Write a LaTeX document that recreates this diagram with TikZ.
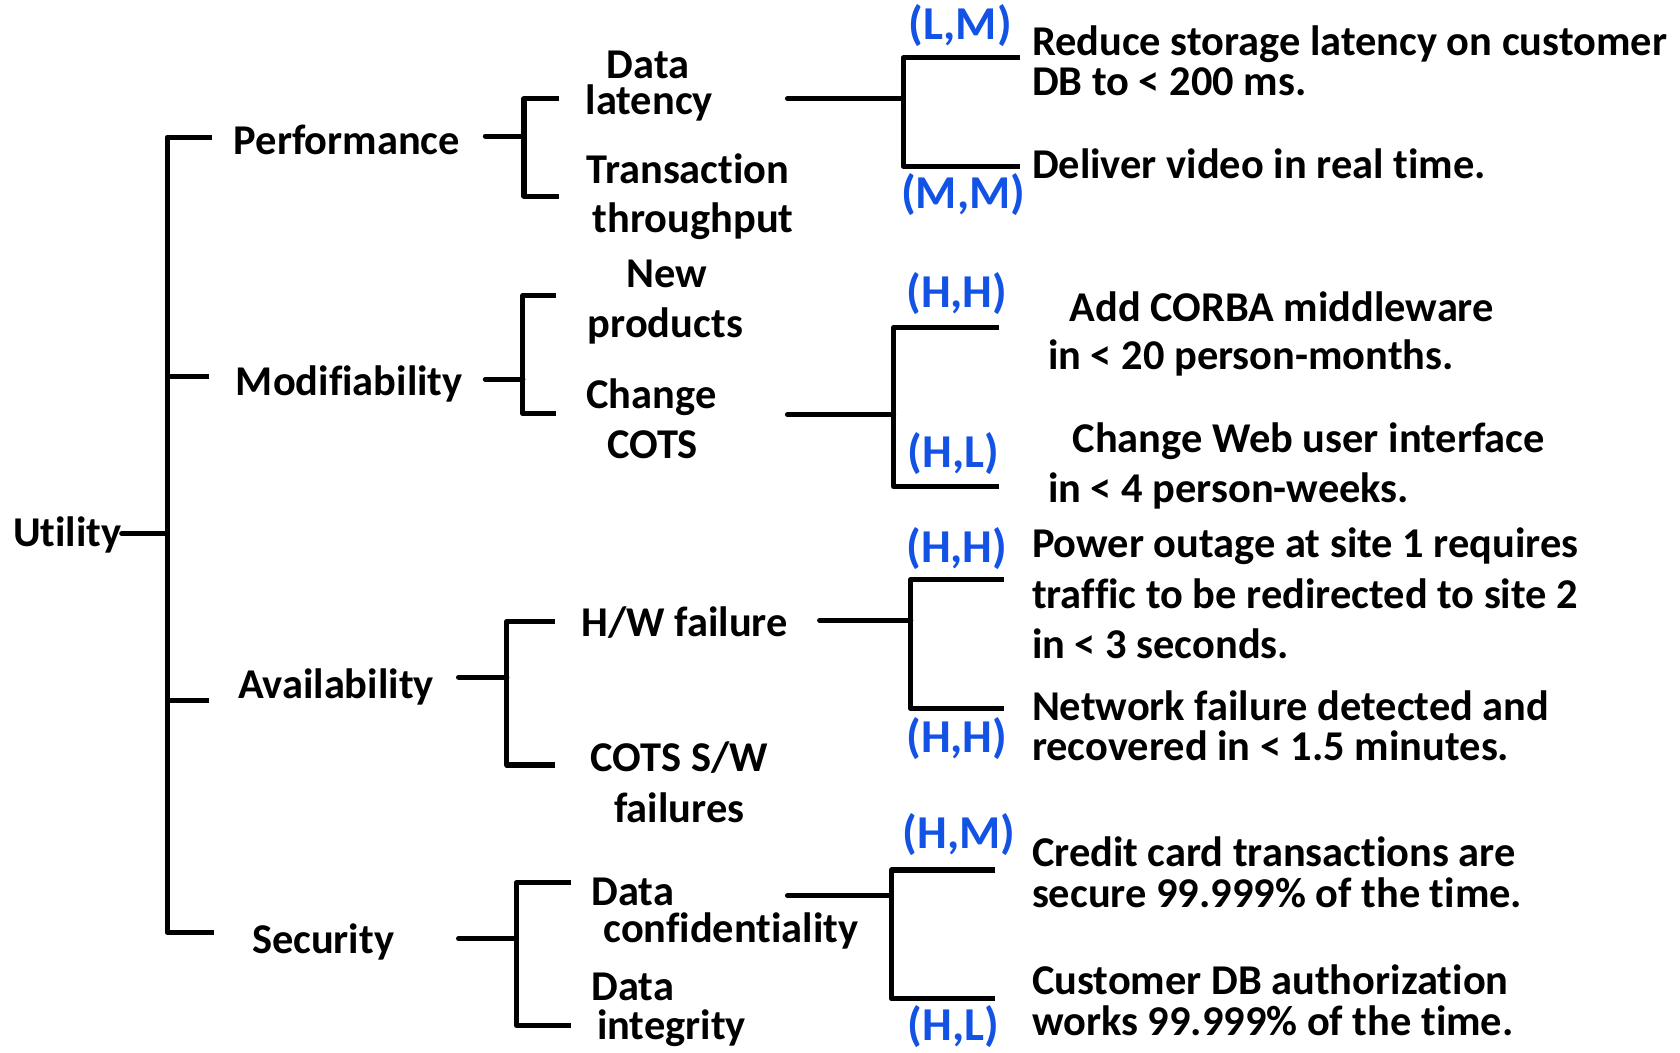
\documentclass[tikz,border=0pt]{standalone}
\usepackage{fontspec}
\setmainfont{Carlito}[Ligatures=NoCommon]
\definecolor{rate}{RGB}{18,82,228}
\tikzset{
  txt/.style={inner sep=0pt, font=\bfseries\fontsize{39.6}{47}\selectfont},
  rating/.style={inner sep=0pt, text=rate, font=\bfseries\fontsize{44}{52}\selectfont},
  wire/.style={line width=4.8pt, line join=round},
}
% a bracket: stem from the parent, a vertical bar, and two arms
% #1 name, #2 stem x, #3 bar x, #4 stem y, #5 top arm y, #6 bottom arm y, #7 arm end x
\newcommand\bracketfork[7]{%
  \coordinate (#1s) at (#2,#4);
  \coordinate (#1j) at (#3,#4);
  \coordinate (#1t) at (#7,#5);
  \coordinate (#1b) at (#7,#6);
  \draw[wire, line cap=round] (#1s) -- (#1j);
  \draw[wire] (#1t) -| (#1j) |- (#1b);
}
\begin{document}
\begin{tikzpicture}[x=1pt,y=-1pt]
\useasboundingbox (0,0) rectangle (1568,982);

% root and quality attributes
\node[txt, anchor=base west] (util)  at (12,510)  {Utility};
\node[txt, anchor=base west] (perf)  at (218,144) {Performance};
\node[txt, anchor=base west] (modi)  at (220,369) {Modifiability};
\node[txt, anchor=base west] (avail) at (222,652) {Availability};
\node[txt, anchor=base west] (secu)  at (235,890) {Security};

% refinements
\node[txt, anchor=base, text depth=0pt] (dl1) at (605,73)  {Data};
\node[txt, anchor=base] (dl2) at (606,107) {latency};
\node[txt, anchor=base] (tt1) at (642,171) {Transaction};
\node[txt, anchor=base] (tt2) at (647,217) {throughput};
\node[txt, anchor=base] (np1) at (622,268) {New};
\node[txt, anchor=base] (np2) at (621,315) {products};
\node[txt, anchor=base] (cc1) at (608,381) {Change};
\node[txt, anchor=base] (cc2) at (609,428) {COTS};
\node[txt, anchor=base] (hw)  at (639,594) {H/W failure};
\node[txt, anchor=base] (cs1) at (634,720) {COTS S/W};
\node[txt, anchor=base] (cs2) at (634,768) {failures};
\node[txt, anchor=base west, text depth=0pt] (dc1) at (552,845) {Data};
\node[txt, anchor=base west] (dc2) at (563,880) {confidentiality};
\node[txt, anchor=base west, text depth=0pt] (di1) at (552,934) {Data};
\node[txt, anchor=base west] (di2) at (557,970) {integrity};

% scenarios
\node[txt, anchor=base west] (r1a) at (963,52)  {Reduce storage latency on customer};
\node[txt, anchor=base west] (r1b) at (963,89)  {DB to < 200 ms.};
\node[txt, anchor=base west] (r2)  at (963,167) {Deliver video in real time.};
\node[txt, anchor=base west] (r3a) at (998,300) {Add CORBA middleware};
\node[txt, anchor=base west] (r3b) at (978,345) {in < 20 person-months.};
\node[txt, anchor=base west] (r4a) at (1001,422) {Change Web user interface};
\node[txt, anchor=base west] (r4b) at (978,469) {in < 4 person-weeks.};
\node[txt, anchor=base west] (r5a) at (963,520) {Power outage at site 1 requires};
\node[txt, anchor=base west] (r5b) at (963,568) {traffic to be redirected to site 2};
\node[txt, anchor=base west] (r5c) at (963,615) {in < 3 seconds.};
\node[txt, anchor=base west] (r6a) at (963,672) {Network failure detected and};
\node[txt, anchor=base west] (r6b) at (963,710) {recovered in < 1.5 minutes.};
\node[txt, anchor=base west] (r7a) at (963,809) {Credit card transactions are};
\node[txt, anchor=base west] (r7b) at (963,847) {secure 99.999\% of the time.};
\node[txt, anchor=base west] (r8a) at (963,928) {Customer DB authorization};
\node[txt, anchor=base west] (r8b) at (963,966) {works 99.999\% of the time.};

% (importance, difficulty) ratings
\node[rating] (k1) at (896,24)  {(L,M)};
\node[rating] (k2) at (899,182) {(M,M)};
\node[rating] (k3) at (893,274) {(H,H)};
\node[rating] (k4) at (890,423) {(H,L)};
\node[rating] (k5) at (893,512) {(H,H)};
\node[rating] (k6) at (893,689) {(H,H)};
\node[rating] (k7) at (895,779) {(H,M)};
\node[rating] (k8) at (890,958) {(H,L)};

% trunk
\coordinate (T)    at (156,498);
\coordinate (Ttop) at (156,128);
\coordinate (Tbot) at (156,870);
\coordinate (Pend) at (198,128);
\coordinate (Mjn)  at (156,351);
\coordinate (Mend) at (195,351);
\coordinate (Ajn)  at (156,654);
\coordinate (Aend) at (195,654);
\coordinate (Send) at (200,870);
\draw[wire, line cap=round] (util.east |- T) -- (T);
\draw[wire] (Pend) -- (Ttop) -- (Tbot) -- (Send);
\draw[wire] (Mjn) -- (Mend);
\draw[wire] (Ajn) -- (Aend);

% attribute -> refinements
\bracketfork{p}{453}{489}{127}{92}{183}{522}
\bracketfork{m}{453}{488}{354}{276}{386}{519}
\bracketfork{a}{428}{473}{632}{580}{714}{518}
\bracketfork{s}{428}{482}{876}{824}{957}{533}

% refinement -> scenarios
\bracketfork{pp}{735}{843}{92}{54}{155}{952}
\bracketfork{mm}{735}{834}{387}{306}{454}{932}
\bracketfork{aa}{765}{850}{579}{541}{661}{937}
\bracketfork{ss}{735}{832}{836}{812}{932}{929}
\end{tikzpicture}
\end{document}
